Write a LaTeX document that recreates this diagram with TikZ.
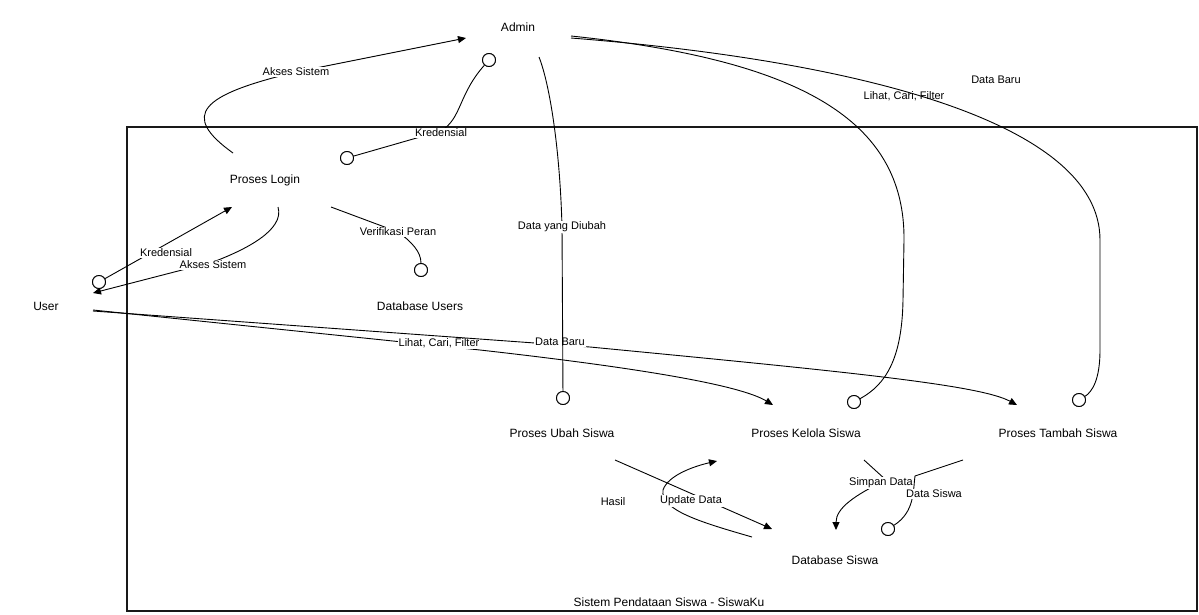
\documentclass[tikz,border=0pt]{standalone}
\usepackage{fontspec}
\setmainfont{Liberation Sans}
\usetikzlibrary{arrows.meta}
\begin{document}
\begin{tikzpicture}[x=1pt,y=-1pt,
  proc/.style={inner sep=0pt,font=\fontsize{12}{14}\selectfont},
  elabel/.style={fill=white,inner sep=1pt,font=\fontsize{11}{13}\selectfont},
  flabel/.style={inner sep=1pt,font=\fontsize{11}{13}\selectfont},
  flow/.style={line width=0.9pt,black},
  arr/.style={flow,-{Triangle[length=8pt,width=7pt]}},
  port/.style={circle,draw,line width=0.9pt,fill=white,minimum size=13pt,inner sep=0pt},
  frame/.style={line width=1.6pt,draw=black!90}]
\useasboundingbox (0,0) rectangle (1199,614);

% system boundary
\draw[frame] (127,127) rectangle (1197,611);
\node[proc] (sys) at (669,602) {Sistem Pendataan Siswa - SiswaKu};

% entities, processes and stores
\node[proc] (admin) at (518,27) {Admin};
\node[proc] (login) at (265,180) {Proses Login};
\node[proc] (user) at (46,306) {User};
\node[proc] (dbusers) at (420,306) {Database Users};
\node[proc] (ubah) at (562,433) {Proses Ubah Siswa};
\node[proc] (kelola) at (806,433) {Proses Kelola Siswa};
\node[proc] (tambah) at (1058,433) {Proses Tambah Siswa};
\node[proc] (dbsiswa) at (835,560) {Database Siswa};

% open-circle flow ends
\node[port] (pAdmin) at (489,60) {};
\node[port] (pLogin) at (347,158) {};
\node[port] (pUser) at (99,282) {};
\node[port] (pDbUsers) at (421,270) {};
\node[port] (pUbah) at (563,398) {};
\node[port] (pKelola) at (854,402) {};
\node[port] (pTambah) at (1079,400) {};
\node[port] (pDbSiswa) at (888,529) {};

% connection points
\coordinate (loginTop) at (233,153);
\coordinate (loginBot) at (278,207);
\coordinate (loginRt) at (331,207);
\coordinate (adminIn) at (466,38);
\coordinate (adminOut1) at (539,57);
\coordinate (adminOut2) at (571,36);
\coordinate (adminOut3) at (571,38);
\coordinate (loginIn) at (232,207);
\coordinate (userIn) at (93,293);
\coordinate (userOut1) at (93,310);
\coordinate (userOut2) at (93,311);
\coordinate (kelolaIn) at (773,405);
\coordinate (tambahIn) at (1017,405);
\coordinate (ubahOut) at (615,460);
\coordinate (kelolaIn2) at (717,461);
\coordinate (kelolaOut) at (864,460);
\coordinate (tambahOut) at (963,460);
\coordinate (dbsiswaIn1) at (772,529);
\coordinate (dbsiswaIn2) at (836,530);
\coordinate (dbsiswaOut) at (752,537);

% User -> Proses Kelola / Proses Tambah
\draw[arr] (userOut1) -- (480,350) .. controls (640,368) and (740,385) .. (kelolaIn);
\node[elabel] at (439,343) {Lihat, Cari, Filter};
\draw[arr] (userOut2) -- (590,347) .. controls (850,372) and (980,385) .. (tambahIn);
\node[elabel] at (560,342) {Data Baru};

% Admin -> Proses Ubah
\draw[flow] (adminOut1) .. controls (550,85) and (560,150) .. (562,227) -- (pUbah);
\node[elabel] at (562,227) {Data yang Diubah};

% Admin -> Proses Kelola / Proses Tambah
\draw[flow] (adminOut2) .. controls (800,60) and (905,120) .. (904,240) -- (903,300)
  .. controls (902,360) and (885,385) .. (pKelola);
\node[flabel] at (904,96) {Lihat, Cari, Filter};
\draw[flow] (adminOut3) .. controls (850,60) and (1100,120) .. (1100,240) -- (1100,350)
  .. controls (1100,380) and (1092,392) .. (pTambah);
\node[flabel] at (996,80) {Data Baru};

% Proses Login <-> Admin
\draw[arr] (loginTop) .. controls (180,115) and (200,95) .. (296,72) -- (adminIn);
\node[elabel] at (296,72) {Akses Sistem};
\draw[flow] (pLogin) -- (441,131) .. controls (462,118) and (458,95) .. (pAdmin);
\node[elabel] at (441,133) {Kredensial};

% User <-> Proses Login
\draw[arr] (pUser) -- (loginIn);
\node[elabel] at (166,253) {Kredensial};
\draw[arr] (loginBot) .. controls (285,230) and (245,250) .. (213,262) -- (userIn);
\node[elabel] at (213,265) {Akses Sistem};

% Proses Login -> Database Users
\draw[flow] (loginRt) -- (398,232) .. controls (412,242) and (421,252) .. (pDbUsers);
\node[elabel] at (398,232) {Verifikasi Peran};

% Proses Ubah / Proses Kelola <-> Database Siswa
\draw[arr] (dbsiswaOut) .. controls (700,522) and (660,510) .. (663,490)
  .. controls (668,475) and (695,466) .. (kelolaIn2);
\draw[arr] (ubahOut) -- (dbsiswaIn1);
\node[elabel] at (691,501) {Update Data};
\node[flabel] at (613,502) {Hasil};
\draw[arr] (kelolaOut) -- (886,480) .. controls (855,495) and (836,508) .. (dbsiswaIn2);
\node[elabel] at (881,483) {Simpan Data};
\draw[flow] (tambahOut) -- (915,476) .. controls (913,490) and (915,512) .. (pDbSiswa);
\node[elabel] at (934,494) {Data Siswa};

% redraw ports on top of the flows
\foreach \p in {pAdmin,pLogin,pUser,pDbUsers,pUbah,pKelola,pTambah,pDbSiswa}
  \node[port] at (\p) {};
\end{tikzpicture}
\end{document}
